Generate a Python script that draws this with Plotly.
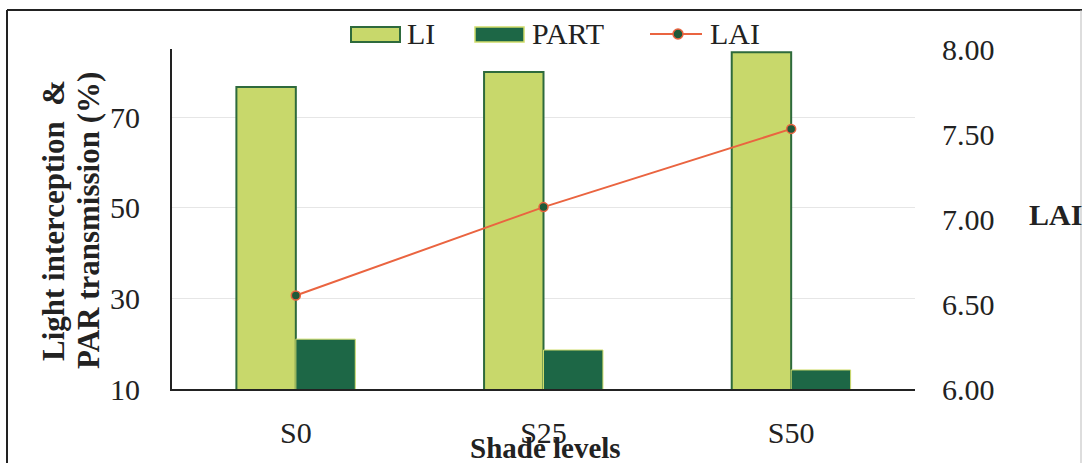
import plotly.graph_objects as go

# Shade treatments and measured values
shade_levels = ["S0", "S25", "S50"]
li_values = [76.6, 79.9, 84.3]          # light interception (%)
part_values = [21.0, 18.6, 14.2]        # PAR transmission (%)
lai_values = [6.55, 7.07, 7.53]         # leaf area index

left_ticks = [10, 30, 50, 70]
right_ticks = [6.0, 6.5, 7.0, 7.5, 8.0]

LI_FILL = "#c8d86b"
LI_EDGE = "#2e6a3c"
PART_FILL = "#1d6746"
PART_EDGE = "#cfdc6a"
LAI_LINE = "#ea6440"
LAI_DOT = "#1f5a3a"
FONT = "Liberation Serif"
TXT = "#222222"
TICK_SIZE = 30

# plot-area pixel geometry, used to place the hand-drawn legend and frame
W, H = 1086, 463
L, R, T, B = 172, 171, 49, 74
PW, PH = W - L - R, H - T - B


def px(x):
    return (x - L) / PW


def py(y):
    return (H - B - y) / PH


fig = go.Figure()
fig.add_trace(go.Bar(
    x=shade_levels, y=li_values, name="LI",
    marker=dict(color=LI_FILL, line=dict(color=LI_EDGE, width=2)),
    showlegend=False,
))
fig.add_trace(go.Bar(
    x=shade_levels, y=part_values, name="PART",
    marker=dict(color=PART_FILL, line=dict(color=PART_EDGE, width=1)),
    showlegend=False,
))
fig.add_trace(go.Scatter(
    x=shade_levels, y=lai_values, name="LAI", yaxis="y2",
    mode="lines+markers",
    line=dict(color=LAI_LINE, width=2),
    marker=dict(color=LAI_DOT, size=9, line=dict(color=LAI_LINE, width=1.5)),
    showlegend=False,
))

shapes = []
annotations = []


def legend_text(label, x):
    annotations.append(dict(text=label, xref="paper", yref="paper", x=px(x), y=py(34),
                            xanchor="left", yanchor="middle", showarrow=False,
                            font=dict(family=FONT, size=TICK_SIZE, color=TXT)))


# legend: LI box
shapes.append(dict(type="rect", xref="paper", yref="paper",
                   x0=px(351), x1=px(400), y0=py(42), y1=py(27),
                   fillcolor=LI_FILL, line=dict(color=LI_EDGE, width=2)))
legend_text("LI", 405)
# legend: PART box
shapes.append(dict(type="rect", xref="paper", yref="paper",
                   x0=px(475), x1=px(524), y0=py(42), y1=py(27),
                   fillcolor=PART_FILL, line=dict(color=PART_EDGE, width=1.5)))
legend_text("PART", 530)
# legend: LAI line with dot
shapes.append(dict(type="line", xref="paper", yref="paper",
                   x0=px(650), x1=px(702), y0=py(34), y1=py(34),
                   line=dict(color=LAI_LINE, width=2)))
shapes.append(dict(type="circle", xref="paper", yref="paper",
                   x0=px(673), x1=px(683), y0=py(39), y1=py(29),
                   fillcolor=LAI_DOT, line=dict(color=LAI_LINE, width=1.5)))
legend_text("LAI", 708)

# outer frame
shapes.append(dict(type="line", xref="paper", yref="paper", x0=px(7), x1=px(1082),
                   y0=py(10), y1=py(10), line=dict(color="#222222", width=2)))
shapes.append(dict(type="line", xref="paper", yref="paper", x0=px(7), x1=px(7),
                   y0=py(10), y1=py(470), line=dict(color="#222222", width=2)))
shapes.append(dict(type="line", xref="paper", yref="paper", x0=px(1081), x1=px(1081),
                   y0=py(10), y1=py(470), line=dict(color="#bbbbbb", width=1)))

# left axis title, one annotation per line
for line_text, cx in (("Light interception&nbsp;&nbsp;&amp;", 53),
                      ("PAR transmission (%)", 88)):
    annotations.append(dict(text=line_text, xref="paper", yref="paper",
                            x=px(cx), y=py(221), xanchor="center", yanchor="middle",
                            textangle=-90, showarrow=False,
                            font=dict(family=FONT, size=31, color=TXT, weight="bold")))
annotations.append(dict(text="Shade levels", xref="paper", yref="paper",
                        x=px(545), y=py(448), xanchor="center", yanchor="middle",
                        showarrow=False,
                        font=dict(family=FONT, size=29, color=TXT, weight="bold")))
annotations.append(dict(text="LAI", xref="paper", yref="paper",
                        x=px(1055), y=py(214), xanchor="center", yanchor="middle",
                        showarrow=False,
                        font=dict(family=FONT, size=30, color=TXT, weight="bold")))

fig.update_layout(
    width=W, height=H,
    margin=dict(l=L, r=R, t=T, b=B),
    paper_bgcolor="white", plot_bgcolor="white",
    barmode="group", bargap=0.52, bargroupgap=0,
    font=dict(family=FONT, color=TXT),
    xaxis=dict(
        showline=True, linecolor="#222222", linewidth=2,
        showgrid=False, ticks="",
        tickfont=dict(family=FONT, size=TICK_SIZE, color=TXT),
        ticklabelstandoff=16,
    ),
    yaxis=dict(
        range=[10, 85], tickvals=left_ticks,
        showline=True, linecolor="#222222", linewidth=2,
        showgrid=True, gridcolor="#e6e6e6", gridwidth=1,
        zeroline=False, ticks="",
        tickfont=dict(family=FONT, size=TICK_SIZE, color=TXT),
        ticklabelstandoff=24,
    ),
    yaxis2=dict(
        range=[6, 8], tickvals=right_ticks, tickformat=".2f",
        overlaying="y", side="right",
        showline=False, showgrid=False, zeroline=False, ticks="",
        tickfont=dict(family=FONT, size=TICK_SIZE, color=TXT),
        ticklabelstandoff=26,
    ),
    shapes=shapes,
    annotations=annotations,
)

fig.write_html("out.html")
